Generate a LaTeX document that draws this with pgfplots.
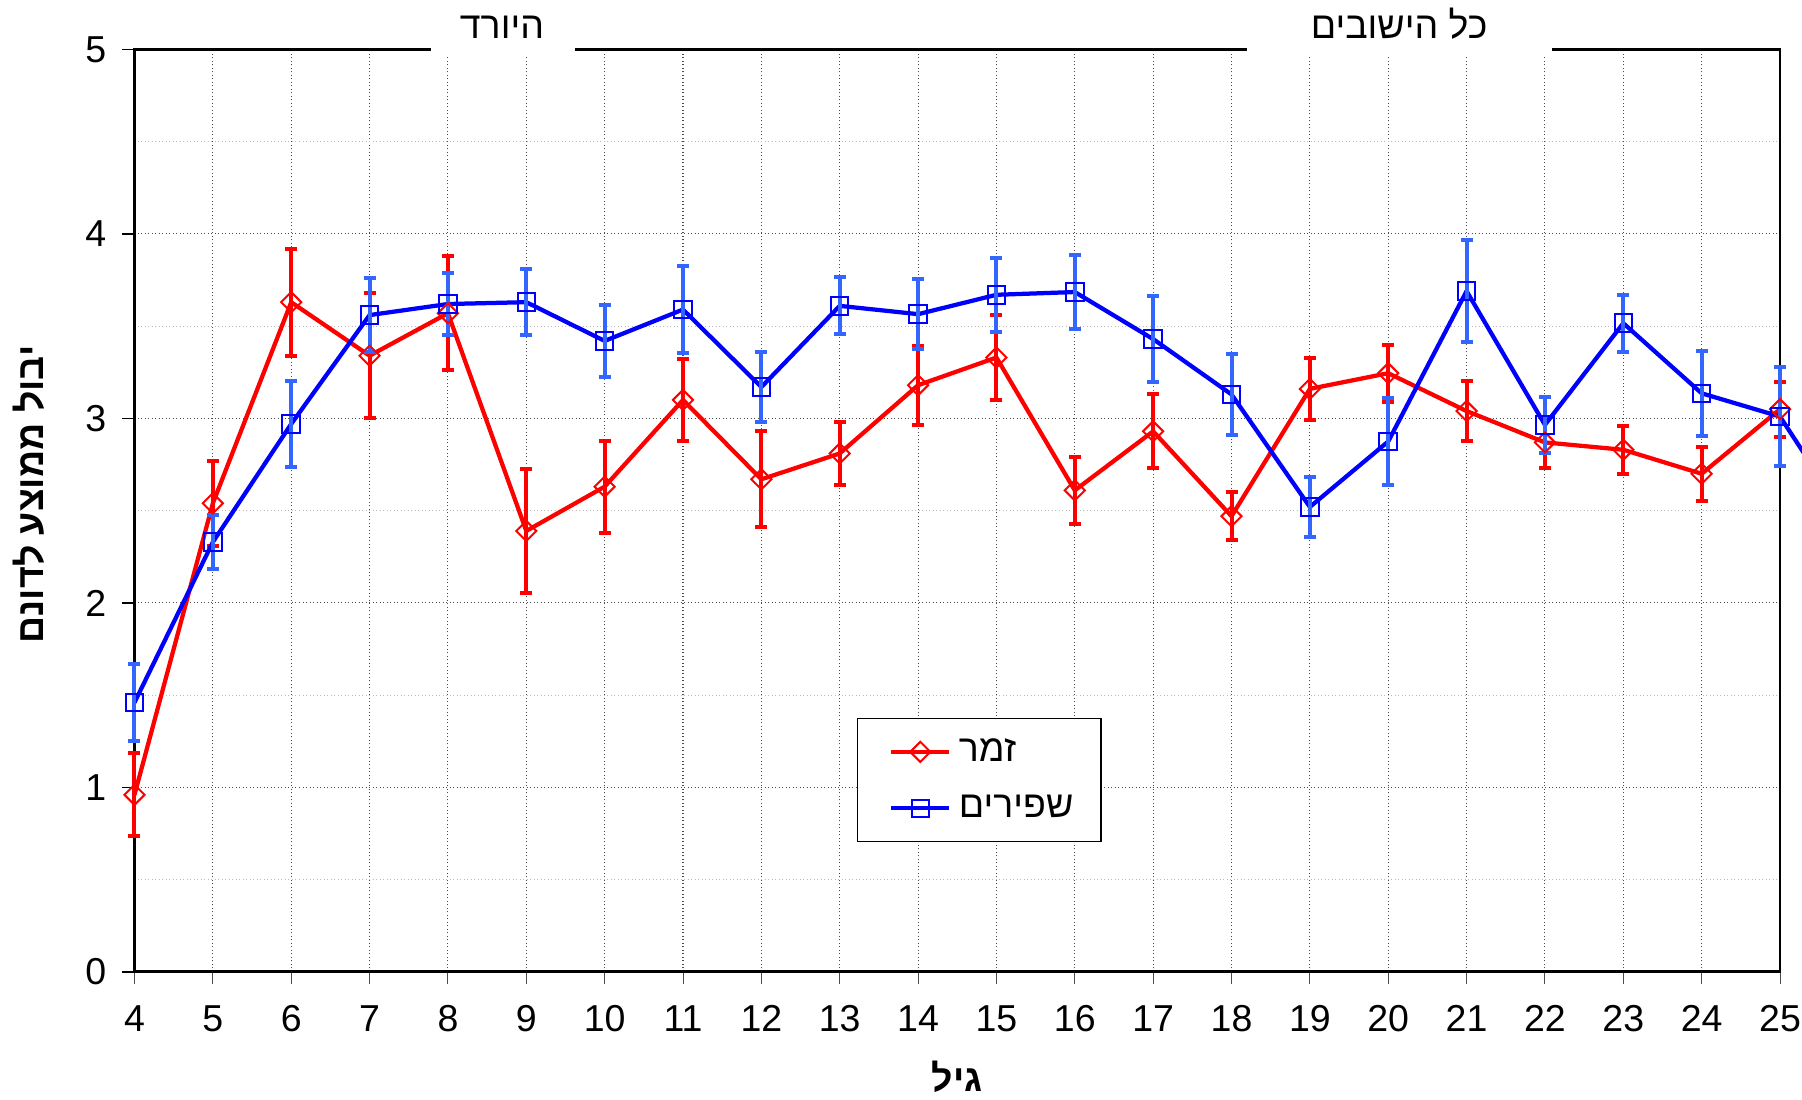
\documentclass[border=0pt]{standalone}
\usepackage{fontspec}
\usepackage{pgfplots}
\pgfplotsset{compat=1.18}
\setmainfont{Liberation Sans}
\newfontfamily\hebfont[Script=Hebrew]{Liberation Sans}
\TeXXeTstate=1
\definecolor{ebblue}{HTML}{3366FF}
\newcommand{\fs}{\fontsize{15}{18}\selectfont}
\begin{document}
\begin{tikzpicture}
\begin{axis}[
  name=ax,
  at={(0,0)}, anchor=south west,
  scale only axis, width=658.2pt, height=369pt,
  xmin=4, xmax=25, ymin=0, ymax=5,
  clip=false,
  xtick={4,...,25}, ytick={0,...,5}, minor ytick={0.5,1.5,...,4.5},
  xtick pos=bottom, ytick pos=left,
  grid=both,
  major grid style={gray!60!black, densely dotted, line width=0.45pt},
  minor grid style={gray!55, densely dotted, line width=0.45pt},
  tick align=outside, major tick length=4.8pt, minor tick length=0pt,
  x tick style={gray!60!black, line width=0.4pt},
  y tick style={black, line width=0.6pt},
  axis line style={black, line width=0.9pt},
  tick label style={font=\fs},
  /pgf/number format/assume math mode=true,
  xticklabel style={yshift=-5pt},
  yticklabel style={xshift=-3pt},
  legend style={at={(axis cs:13.22,1.377)}, anchor=north west, draw=black, line width=0.6pt, fill=white,
    font=\fs\hebfont, inner xsep=8pt, inner ysep=5pt, row sep=6pt, nodes={inner sep=3pt}},
  legend cell align=left,
  legend image code/.code={\path (-4.6pt,0pt); \draw[mark repeat=2,mark phase=2,#1] plot coordinates {(0pt,0pt) (11.6pt,0pt) (23.2pt,0pt)};},
]
\addplot[red, line width=1.7pt, mark=square, mark size=2.85pt,
  mark options={rotate=45, line width=0.8pt, solid},
  error bars/.cd, y dir=both, y explicit,
  error bar style={red, line width=1.6pt},
  error mark options={rotate=90, red, mark size=2.4pt, line width=1.6pt}]
  table[x index=0, y index=1, y error index=2] {
4 0.96 0.225
5 2.54 0.23
6 3.63 0.29
7 3.34 0.34
8 3.57 0.31
9 2.39 0.335
10 2.63 0.25
11 3.10 0.22
12 2.67 0.26
13 2.81 0.17
14 3.18 0.215
15 3.33 0.23
16 2.61 0.18
17 2.93 0.20
18 2.47 0.13
19 3.16 0.17
20 3.245 0.155
21 3.04 0.163
22 2.87 0.14
23 2.83 0.13
24 2.70 0.145
25 3.05 0.15
};
\addlegendentry{\beginR זמר\endR}
\addplot[blue, line width=1.7pt, mark=square, mark size=3.5pt,
  mark options={line width=0.8pt, solid},
  error bars/.cd, y dir=both, y explicit,
  error bar style={ebblue, line width=1.6pt},
  error mark options={rotate=90, ebblue, mark size=2.4pt, line width=1.6pt}]
  table[x index=0, y index=1, y error index=2] {
4 1.46 0.21
5 2.33 0.145
6 2.97 0.235
7 3.56 0.20
8 3.62 0.17
9 3.63 0.18
10 3.42 0.195
11 3.59 0.235
12 3.17 0.19
13 3.61 0.155
14 3.565 0.19
15 3.67 0.20
16 3.685 0.20
17 3.43 0.235
18 3.13 0.22
19 2.52 0.165
20 2.875 0.235
21 3.69 0.275
22 2.965 0.15
23 3.516 0.155
24 3.136 0.23
25 3.01 0.27
26 2.36 0
};
\addlegendentry{\beginR שפירים\endR}
\coordinate (g1a) at (axis cs:7.78,5);
\coordinate (g1b) at (axis cs:9.62,5);
\coordinate (g2a) at (axis cs:18.2,5);
\coordinate (g2b) at (axis cs:22.09,5);
\coordinate (t1) at (axis cs:8.69,5);
\coordinate (t2) at (axis cs:20.14,5);
\end{axis}
\draw[black, line width=1.2pt] (ax.south west) -- (ax.south east);
\fill[white] ([yshift=-3pt]g1a) rectangle ([yshift=22pt]g1b);
\fill[white] ([yshift=-3pt]g2a) rectangle ([yshift=22pt]g2b);
\node[anchor=base, font=\fs\hebfont, inner sep=0pt] at ([yshift=4.2pt]t1) {\beginR היורד\endR};
\node[anchor=base, font=\fs\hebfont, inner sep=0pt] at ([yshift=4.2pt]t2) {\beginR כל הישובים\endR};
\node[rotate=90, font=\fs\bfseries\hebfont, inner sep=0pt] at ([xshift=-42.4pt, yshift=6.5pt]ax.west) {\beginR יבול ממוצע לדונם\endR};
\node[anchor=base, font=\fs\bfseries\hebfont, inner sep=0pt] at ([yshift=-48pt]ax.south) {\beginR גיל\endR};
\pgfresetboundingbox
\path[use as bounding box] (-53.8pt,-51.2pt) rectangle (667pt,388.76pt);
\end{tikzpicture}
\end{document}
